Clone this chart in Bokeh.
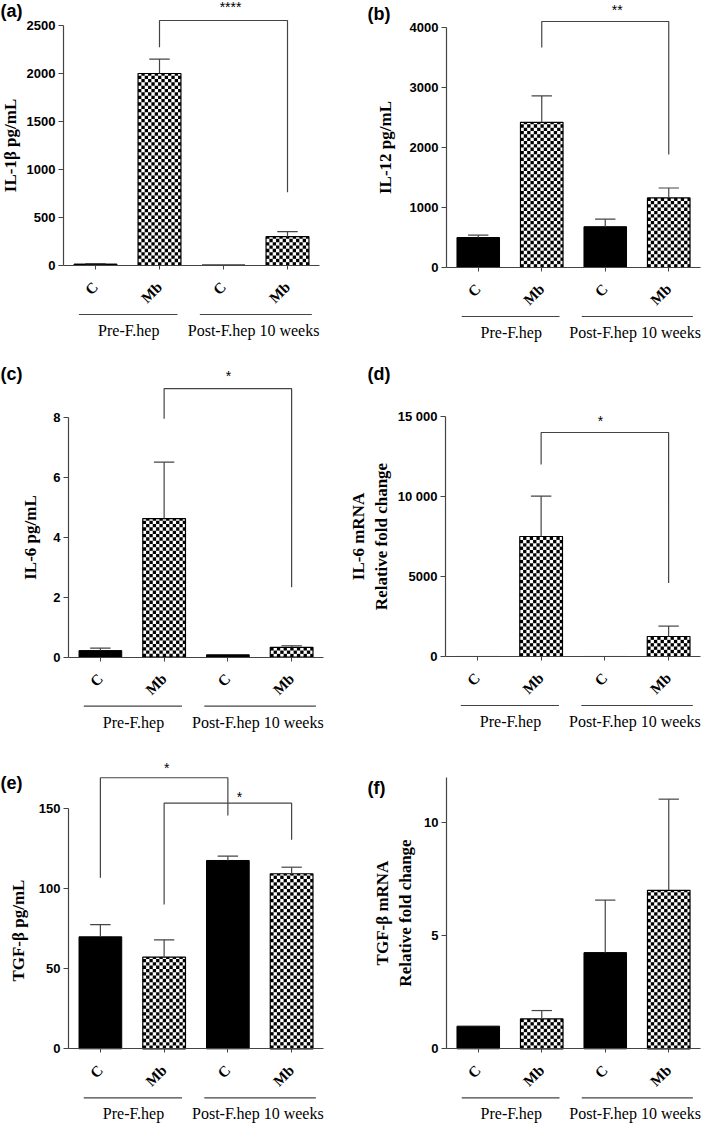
import math
from math import pi
from bokeh.plotting import figure
from bokeh.layouts import column, row
from bokeh.models import Range1d, FixedTicker
from bokeh.core.properties import value
from bokeh.embed import file_html
from bokeh.resources import INLINE

# ---------------- data ----------------
categories = ["C", "Mb", "C", "Mb"]
bar_kind = ["solid", "checker", "solid", "checker"]
groups = ["Pre-F.hep", "Post-F.hep 10 weeks"]

il1b_mean = [15, 2000, 6, 300]
il1b_sem = [4, 150, 0, 52]
il12_mean = [500, 2420, 680, 1160]
il12_sem = [40, 440, 125, 165]
il6_mean = [0.22, 4.62, 0.08, 0.33]
il6_sem = [0.08, 1.88, 0.0, 0.05]
il6mrna_mean = [1, 7500, 1, 1250]
il6mrna_sem = [0, 2520, 0, 650]
tgfb_mean = [70, 57.3, 117.7, 109.4]
tgfb_sem = [7.6, 10.8, 2.7, 4.1]
tgfbmrna_mean = [1.0, 1.32, 4.25, 7.0]
tgfbmrna_sem = [0, 0.37, 2.32, 4.03]

# significance brackets: (from bar index, to bar index, top, left leg end, right leg end, stars)
il1b_sig = [(1, 3, 2552, 2274, 764, "****")]
il12_sig = [(1, 3, 4100, 3667, 1883, "**")]
il6_sig = [(1, 3, 8.95, 7.95, 2.33, "*")]
il6mrna_sig = [(1, 3, 14000, 12000, 4600, "*")]
tgfb_sig = [(0, 2, 169.4, 106.9, 145.8, "*"), (1, 3, 153.5, 90.2, 130.6, "*")]
tgfbmrna_sig = []

il1b_ticks = [0, 500, 1000, 1500, 2000, 2500]
il12_ticks = [0, 1000, 2000, 3000, 4000]
il6_ticks = [0, 2, 4, 6, 8]
il6mrna_ticks = [0, 5000, 10000, 15000]
il6mrna_tick_labels = ["0", "5000", "10 000", "15 000"]
tgfb_ticks = [0, 50, 100, 150]
tgfbmrna_ticks = [0, 5, 10]

# ---------------- style ----------------
LINE = "#444444"
BAR_W = 0.67
CELL_PX = 3.33


def make_panel(W, H, xL, xR, y0, yT, ytop_val, axis_top, mean, sem, ticks, ylabel,
               sig, star_pos, letter, letter_px, label_standoff, tick_labels=None):
    sp = (xR - xL) / 4.0
    k = ytop_val / float(y0 - yT)

    def X(px):
        return (px - xL) / sp

    def Y(py):
        return (y0 - py) * k

    p = figure(width=W, height=H, x_range=Range1d(X(0), X(W)), y_range=Range1d(Y(H), Y(0)),
               output_backend="svg", toolbar_location=None, min_border=0)
    p.outline_line_color = None
    p.grid.visible = False
    p.background_fill_color = "white"

    xs = [i + 0.5 for i in range(len(categories))]

    # x axis
    xa = p.xaxis[0]
    xa.fixed_location = 0
    xa.bounds = (0, 4)
    xa.ticker = FixedTicker(ticks=xs)
    xa.major_label_overrides = {x: c for x, c in zip(xs, categories)}
    xa.major_label_orientation = pi / 4
    xa.major_label_text_font = "Liberation Serif"
    xa.major_label_text_font_style = "bold"
    xa.major_label_text_font_size = "15px"
    xa.major_label_text_color = "black"
    xa.major_label_standoff = 15
    xa.major_tick_in = 0
    xa.major_tick_out = 4
    xa.major_tick_line_color = LINE
    xa.axis_line_color = LINE
    xa.axis_line_width = 1.2

    # y axis
    ya = p.yaxis[0]
    ya.fixed_location = 0
    ya.bounds = (0, axis_top)
    ya.ticker = FixedTicker(ticks=ticks)
    if tick_labels is not None:
        ya.major_label_overrides = {t: s for t, s in zip(ticks, tick_labels)}
    ya.major_label_text_font = "Liberation Sans"
    ya.major_label_text_font_style = "bold"
    ya.major_label_text_font_size = "13px"
    ya.major_label_text_color = "black"
    ya.major_label_standoff = 3
    ya.major_tick_in = 0
    ya.major_tick_out = 5
    ya.major_tick_line_color = LINE
    ya.axis_line_color = LINE
    ya.axis_line_width = 1.2
    ya.axis_label = ylabel
    ya.axis_label_text_font = "Liberation Serif"
    ya.axis_label_text_font_style = "bold"
    ya.axis_label_text_font_size = "17px"
    ya.axis_label_text_color = "black"
    ya.axis_label_standoff = label_standoff

    sx = [x for x, kd in zip(xs, bar_kind) if kd == "solid"]
    st = [m for m, kd in zip(mean, bar_kind) if kd == "solid"]
    cx = [x for x, kd in zip(xs, bar_kind) if kd == "checker"]
    ct = [m for m, kd in zip(mean, bar_kind) if kd == "checker"]
    p.vbar(x=sx, top=st, bottom=0, width=BAR_W, fill_color="black", line_color="black", line_width=1)
    p.vbar(x=cx, top=ct, bottom=0, width=BAR_W, fill_color="white", line_color=None)

    # checkerboard fill of the patterned bars
    cw = CELL_PX / sp
    ch = CELL_PX * k
    ql, qr, qb, qt = [], [], [], []
    for x, top in zip(cx, ct):
        left, right = x - BAR_W / 2, x + BAR_W / 2
        ncol = int(math.ceil((right - left) / cw))
        nrow = int(math.ceil(top / ch))
        for r in range(nrow):
            b = r * ch
            t = min(top, b + ch)
            for c in range(ncol):
                if (r + c) % 2 == 0:
                    l = left + c * cw
                    rr = min(right, l + cw)
                    ql.append(l); qr.append(rr); qb.append(b); qt.append(t)
    p.quad(left=ql, right=qr, bottom=qb, top=qt, fill_color="black", line_color=None)
    p.vbar(x=cx, top=ct, bottom=0, width=BAR_W, fill_color=None, line_color="black", line_width=1.2)

    # error bars (upper only)
    ex = [x for x, s in zip(xs, sem) if s > 0]
    em = [m for m, s in zip(mean, sem) if s > 0]
    et = [m + s for m, s in zip(mean, sem) if s > 0]
    capw = 0.32
    p.segment(x0=ex, y0=em, x1=ex, y1=et, line_color=LINE, line_width=1.2)
    p.segment(x0=[x - capw / 2 for x in ex], y0=et, x1=[x + capw / 2 for x in ex], y1=et,
              line_color=LINE, line_width=1.2)

    # significance brackets
    for (i, j, top, la, lb, stars), (spx, sdy) in zip(sig, star_pos):
        p.line(x=[xs[i], xs[i], xs[j], xs[j]], y=[la, top, top, lb], line_color=LINE, line_width=1.2)
        p.text(x=[spx], y=[top + sdy * k], text=[stars], text_align="center", text_baseline="middle",
               text_font=value("Liberation Sans"), text_font_size="14px", text_color="black")

    # group underlines and labels
    p.segment(x0=[0.24, 2.13], y0=[Y(y0 + 49)] * 2, x1=[1.78, 3.88], y1=[Y(y0 + 49)] * 2,
              line_color=LINE, line_width=1.2)
    p.text(x=[1.02, 2.97], y=[Y(y0 + 65)] * 2, text=groups, text_align="center",
           text_baseline="middle", text_font=value("Liberation Serif"), text_font_size="16px",
           text_color="black")

    # panel letter
    p.text(x=[X(letter_px[0])], y=[Y(letter_px[1])], text=[letter], text_align="left",
           text_baseline="top", text_font=value("Liberation Sans"), text_font_style="bold",
           text_font_size="18px", text_color="black")
    return p


W0, W1 = 350, 359
H0, H1, H2 = 360, 375, 391

pa = make_panel(W0, H0, 63, 319, 265, 25, 2500, 2500, il1b_mean, il1b_sem, il1b_ticks,
                "IL-1\u03b2 pg/mL", il1b_sig, [(2.61, 14)], "(a)", (0, 0), 4)
pb = make_panel(W1, H0, 96, 350, 267, 27, 4000, 4000, il12_mean, il12_sem, il12_ticks,
                "IL-12 pg/mL", il12_sig, [(2.69, 12)], "(b)", (17, 3), 12)
pc = make_panel(W0, H1, 68, 323, 296.7, 56.7, 8, 8, il6_mean, il6_sem, il6_ticks,
                "IL-6 pg/mL", il6_sig, [(2.51, 13)], "(c)", (0, 3), 10)
pd = make_panel(W1, H1, 95, 350, 296, 56, 15000, 15000, il6mrna_mean, il6mrna_sem, il6mrna_ticks,
                "IL-6 mRNA\nRelative fold change", il6mrna_sig, [(2.43, 12)], "(d)", (17, 3), 4,
                tick_labels=il6mrna_tick_labels)
pe = make_panel(W0, H2, 68, 323, 313.3, 73.3, 150, 150, tgfb_mean, tgfb_sem, tgfb_ticks,
                "TGF-\u03b2  pg/mL", tgfb_sig, [(1.54, 10), (2.68, 6)], "(e)", (0, 37), 8)
pf = make_panel(W1, H2, 96, 350, 313.3, 41.7, 12, 12, tgfbmrna_mean, tgfbmrna_sem, tgfbmrna_ticks,
                "TGF-\u03b2 mRNA\nRelative fold change", tgfbmrna_sig, [], "(f)", (17, 42), 6)

layout = column(row(pa, pb), row(pc, pd), row(pe, pf))
open("out.html", "w").write(file_html(layout, INLINE))
